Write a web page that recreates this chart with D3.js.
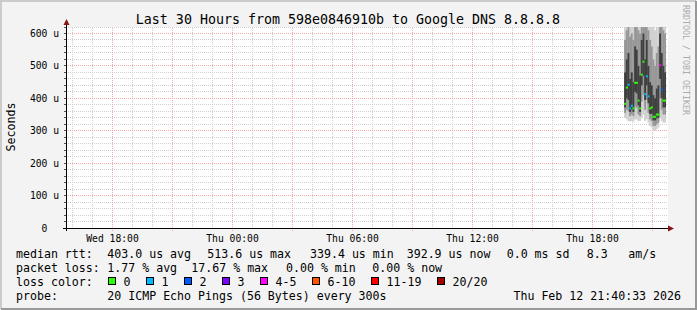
<!DOCTYPE html>
<html>
<head>
<meta charset="utf-8">
<script src="https://cdn.jsdelivr.net/npm/d3@7"></script>
<style>
body { margin: 0; background: #f3f3f3; }
svg text { font-family: "DejaVu Sans Mono", monospace; fill: #000; }
</style>
</head>
<body>
<div id="chart"></div>
<script>
// 5 minute steps, Thu Feb 12 (end of interval)
var slotTimes = ["19:40","19:45","19:50","19:55","20:00","20:05","20:10","20:15","20:20","20:25",
                 "20:30","20:35","20:40","20:45","20:50","20:55","21:00","21:05","21:10","21:15",
                 "21:20","21:25","21:30","21:35","21:40"];
// median rtt in microseconds
var medianRtt = [383,433,442,369,377,369,448,448,393,369,473,513,413,468,406,369,372,343,343,350,350,502,427,393,393];
// lost pings out of 20
var lossCount = [0,0,1,1,1,0,0,0,0,0,0,0,1,1,1,0,0,0,0,0,0,4,2,0,0];
// smoke: spread of the 20 pings (us)
var rttLo  = [340,335,330,328,330,328,335,335,330,330,340,350,330,335,325,315,310,300,300,305,310,340,330,325,325];
var rttP10 = [355,365,360,345,350,345,375,370,350,345,390,410,365,395,355,335,330,315,315,320,325,400,365,350,350];
var rttQ1  = [372,400,395,358,365,358,420,415,378,358,440,470,395,440,385,352,352,332,332,338,340,460,400,372,372];
var rttQ3  = [480,520,540,460,480,450,560,550,500,470,580,600,520,580,500,450,440,410,400,430,440,600,540,500,480];
var rttP90 = [580,610,620,590,600,580,630,620,610,600,640,660,620,640,610,580,560,520,500,540,560,660,630,610,600];
var rttHi  = [650,660,670,660,660,650,670,670,660,660,690,710,670,690,660,650,640,630,610,640,650,710,680,660,650];

var yTickValues = [0,100,200,300,400,500,600];
var yTickLabels = ["0","100 u","200 u","300 u","400 u","500 u","600 u"];

var lossLabels = ["0","1","2","3","4-5","6-10","11-19","20/20"];
var lossColors = ["#26ff00","#00b8ff","#0059ff","#7e00ff","#ff00ff","#ff5500","#ff0000","#a10000"];

var titleText = "Last 30 Hours from 598e0846910b to Google DNS 8.8.8.8";
var rttRow  = ["median rtt:","403.0 us avg","513.6 us max","339.4 us min","392.9 us now","0.0 ms sd","8.3","am/s"];
var lossRow = ["packet loss:","1.77 % avg","17.67 % max","0.00 % min","0.00 % now"];
var probeRow = ["probe:","20 ICMP Echo Pings (56 Bytes) every 300s"];
var stampText = "Thu Feb 12 21:40:33 2026";

var W = 697, H = 310;
var plot = { left: 66, right: 666, top: 27, bottom: 228 };

var svg = d3.select("#chart").append("svg")
    .attr("width", W)
    .attr("height", H);

var defs = svg.append("defs");

// dotted grid patterns (1 on, 1 off)
function dotPattern(id, color, horiz) {
    var p = defs.append("pattern").attr("id", id)
        .attr("patternUnits", "userSpaceOnUse")
        .attr("width", horiz ? 2 : 1).attr("height", horiz ? 1 : 2);
    p.append("rect").attr("width", 1).attr("height", 1).attr("fill", color);
}
dotPattern("gh", "#d0d0d0", true);
dotPattern("gv", "#d0d0d0", false);
dotPattern("rh", "#f5abab", true);
dotPattern("rv", "#f5abab", false);

// frame
svg.append("rect").attr("width", W).attr("height", H).attr("fill", "#f3f3f3");
svg.append("path").attr("d", "M1,309 V1 H696").attr("fill", "none")
    .attr("stroke", "#cbcbcb").attr("stroke-width", 2);
svg.append("path").attr("d", "M1,309 H696 V1").attr("fill", "none")
    .attr("stroke", "#999").attr("stroke-width", 2);

svg.append("rect")
    .attr("x", plot.left + 1).attr("y", plot.top)
    .attr("width", 668 - plot.left - 1).attr("height", plot.bottom - plot.top)
    .attr("fill", "#fff");

var tEnd = new Date(2026, 1, 12, 21, 40, 33);
var tStart = new Date(2026, 1, 11, 15, 40, 33);

var x = d3.scaleTime().domain([tStart, tEnd]).range([plot.left, plot.right]);
var y = d3.scaleLinear().domain([0, 600]).range([plot.bottom, 33.5]);

var grid = svg.append("g").attr("shape-rendering", "crispEdges");

function hLines(vals, fill) {
    grid.selectAll(null).data(vals).enter().append("rect")
        .attr("x", plot.left + 1).attr("width", 668 - plot.left - 1)
        .attr("y", function(d) { return Math.floor(y(d)); })
        .attr("height", 1)
        .attr("fill", fill);
}
function vLines(vals, fill, extra) {
    grid.selectAll(null).data(vals).enter().append("rect")
        .attr("x", function(d) { return Math.floor(x(d)); })
        .attr("width", 1)
        .attr("y", plot.top).attr("height", plot.bottom - plot.top + extra)
        .attr("fill", fill);
}

var yMinor = d3.range(20, 621, 20).filter(function(v) { return v % 100 !== 0; });
var hours = d3.timeHour.range(tStart, tEnd);
hLines(yMinor, "url(#gh)");
vLines(hours.filter(function(d) { return d.getHours() % 3 !== 0; }), "url(#gv)", 0);
hLines(yTickValues.slice(1), "url(#rh)");
vLines(hours.filter(function(d) { return d.getHours() % 3 === 0; }), "url(#rv)", 4);

// smoke
defs.append("clipPath").attr("id", "clip")
    .append("rect")
    .attr("x", plot.left).attr("y", plot.top)
    .attr("width", 668 - plot.left).attr("height", plot.bottom - plot.top);

var parseSlot = function(s) {
    var p = s.split(":");
    return new Date(2026, 1, 12, +p[0], +p[1]);
};
var slots = slotTimes.map(function(s, i) {
    var t = parseSlot(s);
    return {
        t0: d3.timeMinute.offset(t, -5), t1: t,
        med: medianRtt[i], loss: lossCount[i],
        lo: rttLo[i], p10: rttP10[i], q1: rttQ1[i], q3: rttQ3[i], p90: rttP90[i], hi: rttHi[i]
    };
});

var smoke = svg.append("g").attr("clip-path", "url(#clip)");
var bands = [["lo", "hi", "#d0d0d0"], ["p10", "p90", "#969696"], ["q1", "q3", "#3f3f3f"]];
bands.forEach(function(b) {
    smoke.selectAll(null).data(slots).enter().append("rect")
        .attr("x", function(d) { return x(d.t0); })
        .attr("width", function(d) { return x(d.t1) - x(d.t0) + 0.2; })
        .attr("y", function(d) { return y(d[b[1]]); })
        .attr("height", function(d) { return y(d[b[0]]) - y(d[b[1]]); })
        .attr("fill", b[2]);
});

function lossIndex(n) {
    if (n <= 3) return n;
    if (n <= 5) return 4;
    if (n <= 10) return 5;
    if (n <= 19) return 6;
    return 7;
}

smoke.selectAll(".med").data(slots).enter().append("rect")
    .attr("x", function(d) { return x(d.t0); })
    .attr("width", function(d) { return x(d.t1) - x(d.t0) + 0.4; })
    .attr("y", function(d) { return y(d.med) - 1; })
    .attr("height", 2)
    .attr("fill", function(d) { return lossColors[lossIndex(d.loss)]; });

// axes
var axes = svg.append("g").attr("shape-rendering", "crispEdges");
axes.selectAll(".ytick").data(d3.range(20, 621, 20)).enter().append("rect")
    .attr("x", plot.left - 2).attr("width", 2)
    .attr("y", function(d) { return Math.floor(y(d)); })
    .attr("height", 1)
    .attr("fill", "#555");
axes.append("rect").attr("x", 63).attr("width", 606)
    .attr("y", plot.bottom).attr("height", 1).attr("fill", "#000");
axes.append("rect").attr("x", plot.left).attr("width", 1)
    .attr("y", 22).attr("height", plot.bottom + 3 - 22).attr("fill", "#000");

svg.append("path").attr("d", "M63.5,25 L66.5,19 L69.5,25 Z").attr("fill", "#8a1212");
svg.append("path").attr("d", "M668,225.5 L674,228.5 L668,231.5 Z").attr("fill", "#8a1212");

// tick labels
svg.selectAll(".ylab").data(yTickValues).enter().append("text")
    .attr("x", 44.5)
    .attr("y", function(d) { return y(d) + 3.5; })
    .attr("text-anchor", "middle")
    .style("font-size", "9.7px")
    .text(function(d, i) { return yTickLabels[i]; });

var fmt = d3.timeFormat("%a %H:%M");
svg.selectAll(".xlab").data(hours.filter(function(d) { return d.getHours() % 6 === 0; })).enter().append("text")
    .attr("x", function(d) { return x(d); })
    .attr("y", 241.5)
    .attr("text-anchor", "middle")
    .style("font-size", "9.7px")
    .text(fmt);

// titles
svg.append("text").attr("x", 348).attr("y", 24).attr("text-anchor", "middle")
    .style("font-size", "13.3px").text(titleText);

svg.append("text").attr("transform", "translate(15,127) rotate(-90)")
    .attr("text-anchor", "middle").style("font-size", "11.6px").text("Seconds");

svg.append("text").attr("transform", "translate(683,5) rotate(90)")
    .style("font-size", "8.3px").style("fill", "#ababab")
    .text("RRDTOOL / TOBI OETIKER");

// legend
var legend = svg.append("g").style("font-size", "11.6px");
var rttX = [16, 107.3, 207.3, 310, 406.7, 506.7, 586.7, 628.3];
var lossX = [16, 107.3, 191.3, 286, 372.3];

legend.selectAll(".r1").data(rttRow).enter().append("text")
    .attr("x", function(d, i) { return rttX[i]; }).attr("y", 258)
    .text(function(d) { return d; });
legend.selectAll(".r2").data(lossRow).enter().append("text")
    .attr("x", function(d, i) { return lossX[i]; }).attr("y", 272)
    .text(function(d) { return d; });

legend.append("text").attr("x", 16).attr("y", 286).text("loss color:");
var bx = 108.5;
lossLabels.forEach(function(lab, i) {
    legend.append("rect")
        .attr("x", bx).attr("y", 277.5).attr("width", 7).attr("height", 7)
        .attr("fill", lossColors[i]).attr("stroke", "#000")
        .attr("shape-rendering", "crispEdges");
    legend.append("text").attr("x", bx + 15).attr("y", 286).text(lab);
    bx = Math.round(bx + 30 + 7 * lab.length) + 0.5;
});

legend.append("text").attr("x", 16).attr("y", 300).text(probeRow[0]);
legend.append("text").attr("x", 107.3).attr("y", 300).text(probeRow[1]);
legend.append("text").attr("x", 681).attr("y", 300).attr("text-anchor", "end").text(stampText);
</script>
</body>
</html>
